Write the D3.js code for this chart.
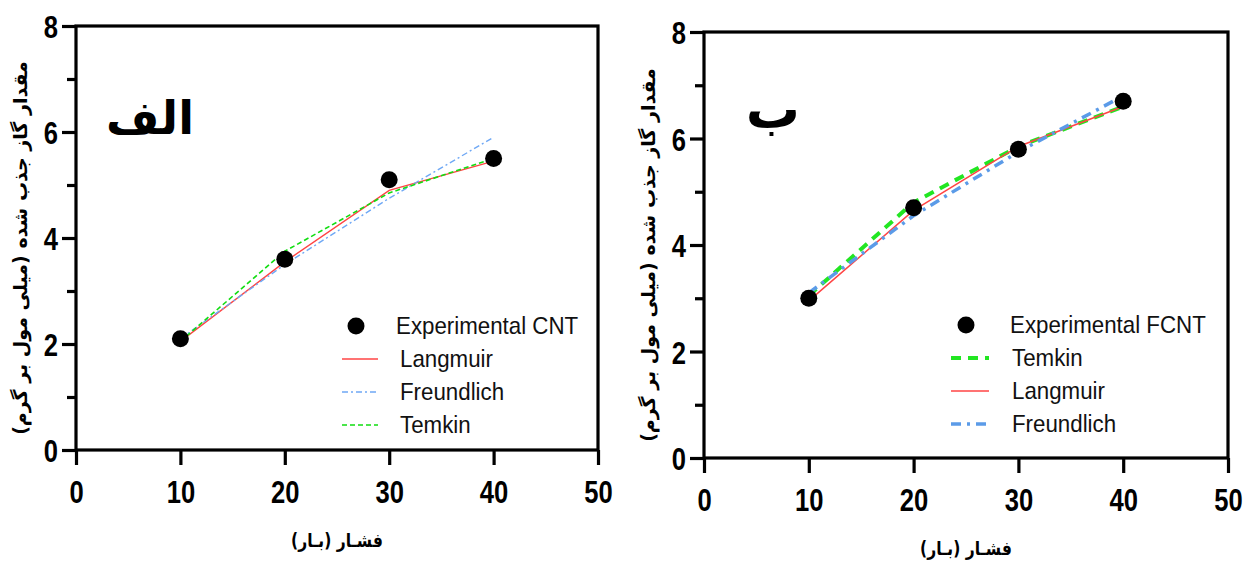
<!DOCTYPE html>
<html>
<head>
<meta charset="utf-8">
<script src="https://cdn.jsdelivr.net/npm/d3@7"></script>
<style>
  body { margin: 0; background: #fff; }
  svg { display: block; }
</style>
</head>
<body>
<div id="plot"></div>
<script>
// pressure values (bar)
var pressure = [10, 20, 30, 40];

// panel "الف" (CNT)
var cntExp = [2.1, 3.6, 5.1, 5.5];
var cntLangmuir = [2.05, 3.55, 4.9, 5.45];
var cntFreundlich = [2.1, 3.5, 4.75, 5.9];
var cntTemkin = [2.05, 3.75, 4.85, 5.5];

// panel "ب" (FCNT)
var fcntExp = [3.0, 4.7, 5.8, 6.7];
var fcntTemkin = [3.05, 4.8, 5.85, 6.6];
var fcntLangmuir = [2.95, 4.65, 5.85, 6.6];
var fcntFreundlich = [3.1, 4.55, 5.75, 6.8];

var xTicks = [0, 10, 20, 30, 40, 50];
var yTicks = [0, 2, 4, 6, 8];
var yMinorTicks = [1, 3, 5, 7];

var yTitle = "مقدار گاز جذب شده (میلی مول بر گرم)";
var xTitle = "فشـار (بـار)";

const w = 1252;
const h = 563;
const sx = 0.8; // the figure is horizontally squeezed

const svg = d3.select("div#plot")
  .append("svg")
  .attr("width", w)
  .attr("height", h);

const styles = {
  Langmuir: { thin: { color: "#ff4444", width: 1.4, dash: null }, thick: { color: "#ff4444", width: 1.5, dash: null } },
  Freundlich: { thin: { color: "#6fa8f5", width: 1.4, dash: "6,3,2,3" }, thick: { color: "#5b9be8", width: 3.5, dash: "10,6,3,6" } },
  Temkin: { thin: { color: "#11dd11", width: 1.6, dash: "5,3" }, thick: { color: "#22e622", width: 4, dash: "10,7" } }
};

function makeLine(series, xScale, yScale) {
  return d3.line()
    .x((d, i) => xScale(pressure[i]))
    .y(d => yScale(d))(series);
}

function panel(opt) {
  const g = svg.append("g");
  const xScale = d3.scaleLinear().domain([0, 50]).range([opt.left, opt.right]);
  const yScale = d3.scaleLinear().domain([0, 8]).range([opt.bottom, opt.top]);

  // frame
  g.append("rect")
    .attr("x", opt.left).attr("y", opt.top)
    .attr("width", opt.right - opt.left).attr("height", opt.bottom - opt.top)
    .attr("fill", "none").attr("stroke", "#000").attr("stroke-width", 3.2);

  const xAxis = g.append("g")
    .attr("transform", `translate(0, ${opt.bottom})`)
    .call(d3.axisBottom(xScale).tickValues(xTicks).tickSize(15).tickSizeOuter(0));
  const yAxis = g.append("g")
    .attr("transform", `translate(${opt.left}, 0)`)
    .call(d3.axisLeft(yScale).tickValues(yTicks).tickSize(14).tickSizeOuter(0));
  const yMinor = g.append("g")
    .attr("transform", `translate(${opt.left}, 0)`)
    .call(d3.axisLeft(yScale).tickValues(yMinorTicks).tickSize(9).tickSizeOuter(0).tickFormat(""));

  [xAxis, yAxis, yMinor].forEach(a => {
    a.select(".domain").remove();
    a.selectAll("line").attr("stroke", "#000").attr("stroke-width", 3.2);
  });

  xAxis.selectAll("text")
    .attr("font-family", "Liberation Sans, Arial, sans-serif")
    .attr("font-weight", "bold")
    .attr("font-size", 32)
    .attr("fill", "#000")
    .attr("dy", "0.71em")
    .attr("y", 30)
    .attr("transform", `scale(${sx}, 1)`);
  yAxis.selectAll("text")
    .attr("font-family", "Liberation Sans, Arial, sans-serif")
    .attr("font-weight", "bold")
    .attr("font-size", 32)
    .attr("fill", "#000")
    .attr("x", -18 / sx)
    .attr("dy", "0.36em")
    .attr("transform", `scale(${sx}, 1)`);

  // fitted lines
  opt.fits.forEach(f => {
    const s = styles[f.name][opt.weight];
    g.append("path")
      .attr("d", makeLine(f.values, xScale, yScale))
      .attr("fill", "none")
      .attr("stroke", s.color)
      .attr("stroke-width", s.width)
      .attr("stroke-dasharray", s.dash);
  });

  // experimental points
  g.selectAll(".pt")
    .data(opt.exp)
    .enter()
    .append("circle")
    .attr("class", "pt")
    .attr("cx", (d, i) => xScale(pressure[i]))
    .attr("cy", d => yScale(d))
    .attr("r", 8.5)
    .attr("fill", "#000");

  // legend
  const lg = g.append("g").attr("transform", `translate(${opt.legX}, ${opt.legY})`);
  lg.append("circle").attr("cx", opt.legMarker).attr("cy", 0).attr("r", 8.5).attr("fill", "#000");
  lg.append("text")
    .attr("transform", `translate(${opt.legText0}, 8) scale(0.93, 1)`)
    .attr("font-family", "Liberation Sans, Arial, sans-serif")
    .attr("font-size", 24)
    .attr("fill", "#111")
    .text(opt.expLabel);
  opt.fits.forEach((f, i) => {
    const s = styles[f.name][opt.weight];
    const yy = 33 * (i + 1);
    lg.append("line")
      .attr("x1", 0).attr("x2", opt.legLineLen)
      .attr("y1", yy).attr("y2", yy)
      .attr("stroke", s.color)
      .attr("stroke-width", s.width)
      .attr("stroke-dasharray", s.dash);
    lg.append("text")
      .attr("transform", `translate(${opt.legText}, ${yy + 8}) scale(0.93, 1)`)
      .attr("font-family", "Liberation Sans, Arial, sans-serif")
      .attr("font-size", 24)
      .attr("fill", "#111")
      .text(f.name);
  });

  // panel tag
  g.append("text")
    .attr("x", opt.tagX).attr("y", opt.tagY)
    .attr("font-family", "DejaVu Sans, sans-serif")
    .attr("font-weight", "bold")
    .attr("font-size", opt.tagSize)
    .attr("text-anchor", "middle")
    .attr("fill", "#000")
    .text(opt.tag);

  // axis titles
  g.append("text")
    .attr("transform", `translate(${opt.yTitleX}, ${(opt.top + opt.bottom) / 2 + 10}) rotate(-90)`)
    .attr("font-family", "DejaVu Sans, sans-serif")
    .attr("font-weight", "bold")
    .attr("font-size", 19)
    .attr("text-anchor", "middle")
    .attr("dy", "0.35em")
    .attr("fill", "#000")
    .text(yTitle);
  g.append("text")
    .attr("transform", `translate(${(opt.left + opt.right) / 2}, ${opt.xTitleY}) scale(0.82, 1)`)
    .attr("font-family", "DejaVu Sans, sans-serif")
    .attr("font-weight", "bold")
    .attr("font-size", 19)
    .attr("text-anchor", "middle")
    .attr("fill", "#000")
    .text(xTitle);
}

panel({
  left: 76, right: 598, top: 26, bottom: 450,
  exp: cntExp,
  fits: [
    { name: "Langmuir", values: cntLangmuir },
    { name: "Freundlich", values: cntFreundlich },
    { name: "Temkin", values: cntTemkin }
  ],
  weight: "thin",
  expLabel: "Experimental CNT",
  legX: 342, legY: 326, legMarker: 14, legLineLen: 36, legText0: 54, legText: 58,
  tag: "الف", tagX: 150, tagY: 134, tagSize: 46,
  yTitleX: 20, xTitleY: 547
});

panel({
  left: 704, right: 1228, top: 32, bottom: 458,
  exp: fcntExp,
  fits: [
    { name: "Temkin", values: fcntTemkin },
    { name: "Langmuir", values: fcntLangmuir },
    { name: "Freundlich", values: fcntFreundlich }
  ],
  weight: "thick",
  expLabel: "Experimental FCNT",
  legX: 951, legY: 325, legMarker: 15, legLineLen: 38, legText0: 59, legText: 61,
  tag: "ب", tagX: 773, tagY: 128, tagSize: 54,
  yTitleX: 648, xTitleY: 555
});
</script>
</body>
</html>
